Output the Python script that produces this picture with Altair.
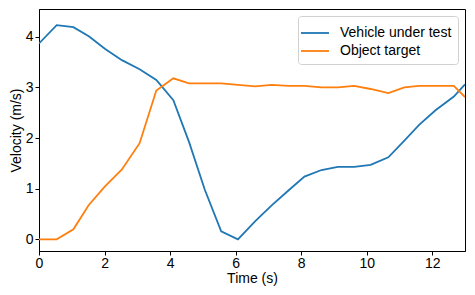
import altair as alt
import pandas as pd

time_s = [0, 0.54, 1.05, 1.52, 2.02, 2.53, 3.07, 3.58, 4.1, 4.58, 5.06, 5.56, 6.07,
          6.6, 7.1, 7.62, 8.1, 8.62, 9.12, 9.62, 10.12, 10.66, 11.15, 11.6, 12.1, 12.66, 13.0]
vehicle = [3.87, 4.23, 4.19, 4.01, 3.76, 3.54, 3.36, 3.15, 2.75, 1.92, 0.98, 0.16, 0.0,
           0.36, 0.67, 0.97, 1.24, 1.37, 1.43, 1.43, 1.47, 1.62, 1.95, 2.26, 2.55, 2.82, 3.06]
target = [0.0, 0.0, 0.2, 0.68, 1.05, 1.38, 1.9, 2.94, 3.18, 3.08, 3.08, 3.08, 3.05,
          3.02, 3.05, 3.03, 3.03, 3.0, 3.0, 3.03, 2.97, 2.89, 3.0, 3.03, 3.03, 3.03, 2.81]
series_names = ["Vehicle under test", "Object target"]
series_colors = ["#1f77b4", "#ff7f0e"]
x_ticks = [0, 2, 4, 6, 8, 10, 12]
y_ticks = [0, 1, 2, 3, 4]

rows = []
for name, vals in zip(series_names, [vehicle, target]):
    for t, v in zip(time_s, vals):
        rows.append({"t": t, "v": v, "series": name})
df = pd.DataFrame(rows)

FONT = "Liberation Sans"

chart = alt.Chart(df).mark_line(strokeWidth=1.8, clip=True).encode(
    x=alt.X("t:Q", scale=alt.Scale(domain=[0, 13], nice=False, zero=False),
            axis=alt.Axis(title="Time (s)", values=x_ticks, format="d")),
    y=alt.Y("v:Q", scale=alt.Scale(domain=[-0.23, 4.55], nice=False, zero=False),
            axis=alt.Axis(title="Velocity (m/s)", values=y_ticks, format="d")),
    color=alt.Color("series:N",
                    scale=alt.Scale(domain=series_names, range=series_colors),
                    sort=series_names,
                    legend=alt.Legend(title=None, orient="top-right", offset=7,
                                      symbolType="M-1.4,0H1.4", symbolSize=400,
                                      symbolStrokeWidth=1.8, labelOffset=14,
                                      labelFontSize=14, labelFont=FONT, labelColor="#000",
                                      padding=6, strokeColor="#d0d0d0", fillColor="white",
                                      cornerRadius=3, rowPadding=0)),
    order="t:Q",
).properties(
    width=426, height=242,
    padding={"left": 31, "top": 1, "right": 1, "bottom": 36},
    autosize=alt.AutoSizeParams(type="none"),
).configure_view(
    stroke="#000", strokeWidth=1
).configure_axis(
    grid=False, domainColor="#000", tickColor="#000", tickSize=4,
    labelFont=FONT, labelFontSize=14, labelColor="#000",
    titleFont=FONT, titleFontSize=14, titleColor="#000", titleFontWeight="normal",
    labelPadding=2,
).configure_axisX(
    titlePadding=1, labelPadding=1, labelFlush=False
).configure_axisY(
    titlePadding=2, labelFlush=False
)

chart.save("out.html", embed_options={"renderer": "svg", "actions": False})
